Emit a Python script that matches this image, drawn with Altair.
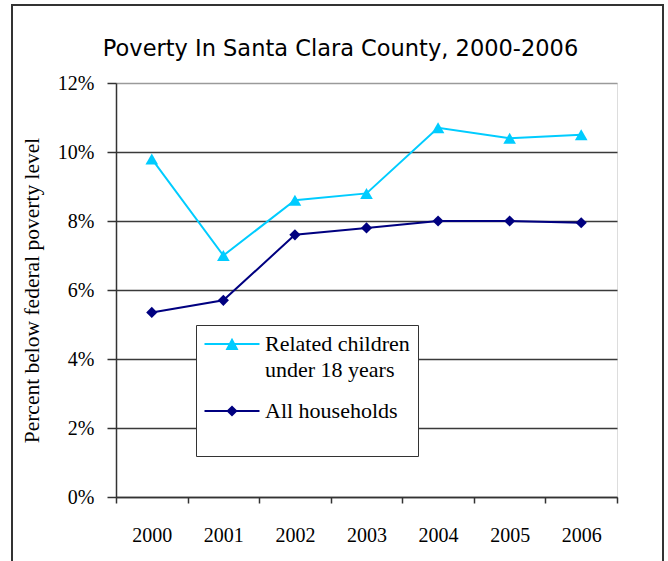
import altair as alt
import pandas as pd

# ---- data ----
years = ["2000", "2001", "2002", "2003", "2004", "2005", "2006"]
children_pct = [9.8, 7.0, 8.6, 8.8, 10.7, 10.4, 10.5]
households_pct = [5.35, 5.7, 7.6, 7.8, 8.0, 8.0, 7.95]
series_names = ["Related children under 18 years", "All households"]
series_colors = ["#00CCFF", "#000080"]
marker_shapes = ["triangle-up", "diamond"]
marker_sizes = [160, 125]
y_tick_values = [0, 0.02, 0.04, 0.06, 0.08, 0.10, 0.12]
chart_title = "Poverty In Santa Clara County, 2000-2006"
y_title = "Percent below federal poverty level"

# legend symbols: a short line with the marker on it (symbol units of 10 px)
legend_paths = [
    "M-1.05,-0.1L4.45,-0.1L4.45,0.1L-1.05,0.1Z M1.7,-0.62L2.35,0.6L1.05,0.6Z",
    "M-1.05,-0.1L4.45,-0.1L4.45,0.1L-1.05,0.1Z M1.7,-0.56L2.26,0L1.7,0.56L1.14,0Z",
]

rows = []
for i, yr in enumerate(years):
    rows.append({"year": yr, "series": series_names[0], "value": children_pct[i] / 100})
    rows.append({"year": yr, "series": series_names[1], "value": households_pct[i] / 100})
df = pd.DataFrame(rows)

SERIF = "'Liberation Serif', 'Times New Roman', 'DejaVu Serif', serif"

x_enc = alt.X(
    "year:O",
    title=None,
    bandPosition=0.5,
    scale=alt.Scale(type="band", paddingInner=0, paddingOuter=0),
    axis=alt.Axis(
        tickBand="extent", tickSize=6, tickColor="#333", tickWidth=1.5,
        domainColor="#333", domainWidth=1.5, labelAngle=0,
        labelFont=SERIF, labelFontSize=20, labelColor="black", labelPadding=22,
        grid=False,
    ),
)
y_enc = alt.Y(
    "value:Q",
    scale=alt.Scale(domain=[0, 0.12], nice=False),
    axis=alt.Axis(
        values=y_tick_values, format=".0%", tickSize=9, tickColor="#333", tickWidth=1.5,
        domainColor="#333", domainWidth=1.5,
        labelFont=SERIF, labelFontSize=20, labelColor="black", labelPadding=13,
        title=y_title, titleFont=SERIF, titleFontSize=21.5, titleFontWeight="normal",
        titleColor="black", titlePadding=14,
        grid=True, gridWidth=1.5,
        gridColor={"condition": {"test": "datum.value >= 0.119", "value": "#9a9a9a"}, "value": "#3a3a3a"},
    ),
)

base = alt.Chart(df)

frame = alt.Chart(pd.DataFrame({"k": [0]})).mark_rect(
    fill="transparent", stroke="#333", strokeWidth=2
).encode(
    x=alt.value(-104), x2=alt.value(547), y=alt.value(-78), y2=alt.value(530)
)

lines = base.mark_line(strokeWidth=2).encode(
    x=x_enc, y=y_enc,
    color=alt.Color("series:N", scale=alt.Scale(domain=series_names, range=series_colors), legend=None),
)

points = base.mark_point(filled=True, opacity=1).encode(
    x=x_enc, y=y_enc,
    color=alt.Color("series:N", scale=alt.Scale(domain=series_names, range=series_colors), legend=None),
    shape=alt.Shape("series:N", scale=alt.Scale(domain=series_names, range=marker_shapes), legend=None),
    size=alt.Size("series:N", scale=alt.Scale(domain=series_names, range=marker_sizes), legend=None),
)

leg = alt.Legend(
    orient="none", legendX=80, legendY=242, padding=8,
    fillColor="white", strokeColor="#333",
    labelFont=SERIF, labelFontSize=22, labelColor="black", labelLimit=400,
    labelOffset=39, rowPadding=19,
    labelExpr="datum.label == 'Related children under 18 years' ? ['Related children', 'under 18 years'] : [datum.label, '']",
    symbolSize=400, symbolStrokeWidth=0, symbolOpacity=1,
)

legend_layer = base.transform_filter("false").mark_point(filled=True, opacity=1, size=400).encode(
    color=alt.Color("series:N", title=None, scale=alt.Scale(domain=series_names, range=series_colors), legend=leg),
    shape=alt.Shape("series:N", title=None, scale=alt.Scale(domain=series_names, range=legend_paths), legend=leg),
)

chart = alt.layer(frame, lines, points, legend_layer).resolve_scale(
    color="independent", shape="independent", size="independent"
).properties(
    width=501, height=414,
    autosize=alt.AutoSizeParams(type="none"),
    padding={"left": 116, "top": 83, "right": 51, "bottom": 64},
    background="white",
    title=alt.TitleParams(
        chart_title, font="DejaVu Sans", fontSize=22.5, fontWeight="normal", color="black",
        anchor="middle", dx=-26, offset=0, dy=74, baseline="alphabetic",
    ),
).configure_view(
    stroke="#9a9a9a", strokeWidth=2
).configure(
    style={"guide-label": {"lineHeight": 26}}
)

chart.save("out.html", embed_options={"renderer": "svg", "actions": False})
